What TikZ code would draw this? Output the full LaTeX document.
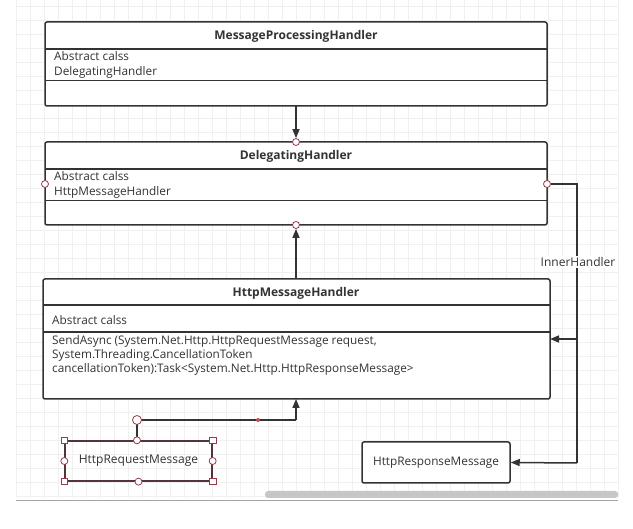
\documentclass[tikz,border=0pt]{standalone}
\usepackage{fontspec}
\setmainfont{Open Sans}
\usetikzlibrary{arrows.meta}
\definecolor{ln}{HTML}{333333}
\definecolor{hd}{HTML}{9A3B4A}
\definecolor{gridc}{HTML}{F0F0F0}
\begin{document}
\begin{tikzpicture}[x=1pt,y=-1pt,
  cls/.style={draw=ln,line width=1.5pt,rounded corners=2pt},
  sep/.style={draw=ln,line width=1.5pt},
  ttl/.style={font=\fontsize{12}{14}\selectfont\bfseries,text=ln},
  txt/.style={font=\fontsize{11.8}{14.5}\selectfont,text=ln,align=left,anchor=west,inner sep=0pt},
  conn/.style={draw=ln,line width=1.5pt},
  tip/.style={-{Triangle[length=9pt,width=7pt]}},
  hcirc/.style={circle,draw=hd,fill=white,line width=0.8pt,inner sep=0pt,minimum size=7pt},
  hsq/.style={rectangle,draw=hd,fill=white,line width=0.8pt,inner sep=0pt,minimum size=6.5pt}]
\useasboundingbox (0,0) rectangle (633,529);
\fill[white] (0,0) rectangle (633,529);
% grid
\foreach \x in {16,30,...,618} \draw[gridc,line width=0.5pt] (\x,0) -- (\x,498);
\foreach \y in {6,20,...,498} \draw[gridc,line width=0.5pt] (16,\y) -- (618,\y);
% scrollbar and bottom line
\fill[gray!45,rounded corners=3pt] (265,491) rectangle (618,498);
\draw[gray!70,line width=0.8pt] (16,500) -- (618,500);

% Box 1
\draw[cls,fill=white] (45,22) rectangle (547,106);
\draw[sep] (45,49) -- (547,49);
\draw[sep,line width=1pt] (45,81) -- (547,81);
\node[ttl] (t1) at (296,36) {MessageProcessingHandler};
\node[txt] (a1) at (54,65) {Abstract calss\\DelegatingHandler};
\coordinate (b1bot) at (296,106);

% Box 2
\draw[cls,fill=white] (45,142) rectangle (547,225);
\draw[sep] (45,169) -- (547,169);
\draw[sep,line width=1pt] (45,201) -- (547,201);
\node[ttl] (t2) at (296,156) {DelegatingHandler};
\node[txt] (a2) at (54,185) {Abstract calss\\HttpMessageHandler};
\coordinate (b2top) at (296,142);
\coordinate (b2bot) at (296,225);
\coordinate (b2right) at (547,184);
\coordinate (b2left) at (45,184);

% Box 3
\draw[cls,fill=white] (43,279) rectangle (550,399);
\draw[sep] (43,305) -- (550,305);
\draw[sep] (43,332) -- (550,332);
\node[ttl] (t3) at (296,293) {HttpMessageHandler};
\node[txt] (a3) at (52,320) {Abstract calss};
\node[txt,anchor=north west,font=\fontsize{11.8}{14}\selectfont] (m3) at (52,335) {SendAsync (System.Net.Http.HttpRequestMessage request,\\System.Threading.CancellationToken\\cancellationToken):Task<System.Net.Http.HttpResponseMessage>};
\coordinate (b3top) at (296,279);
\coordinate (b3bot) at (296,399);
\coordinate (b3right) at (550,339);

% Response box
\node[cls,fill=white,minimum width=148pt,minimum height=41pt,inner sep=0pt,
  font=\fontsize{11.8}{14}\selectfont,text=ln] (resp) at (436,462.5) {HttpResponseMessage};

% Request box (selected)
\node[draw=ln!70!hd,line width=1.3pt,minimum width=147pt,minimum height=40pt,inner sep=0pt,
  font=\fontsize{12}{14}\selectfont,text=ln] (req) at (138.5,461) {HttpRequestMessage};

% handles on DelegatingHandler
\node[hcirc] (h1) at (b2top) {};
\node[hcirc] (h2) at (b2bot) {};
\node[hcirc] (h3) at (b2right) {};
\node[hcirc] (h4) at (b2left) {};

% connectors
\draw[conn,tip] (b1bot) -- (h1.north);
\draw[conn,tip] (b3top) -- (h2.south);
\coordinate (ih1) at (577,184);
\coordinate (ih2) at (577,339);
\coordinate (ih3) at (577,463);
\draw[conn] (h3.east) -- (ih1) -- (ih3);
\draw[conn,tip] (ih2) -- (b3right);
\draw[conn,tip] (ih3) -- (resp.east);
\node[fill=white,inner sep=1.5pt,font=\fontsize{12}{14}\selectfont,text=ln] (lbl) at (578,262) {InnerHandler};

\coordinate (rq1) at (137,420);
\coordinate (rq2) at (296,420);
\draw[conn] (req.north -| rq1) -- (rq1) -- (rq2);
\draw[conn,tip] (rq2) -- (b3bot);
\fill[red!70!black!70] (258,420) circle (2pt);

% handles on selected request box
\node[hcirc,minimum size=9pt] (h5) at (rq1) {};
\node[hcirc] (h6) at (req.north -| rq1) {};
\node[hcirc] (h7) at (req.south) {};
\node[hcirc] (h8) at (req.west) {};
\node[hcirc] (h9) at (req.east) {};
\node[hsq] (s1) at (req.north west) {};
\node[hsq] (s2) at (req.north east) {};
\node[hsq] (s3) at (req.south west) {};
\node[hsq] (s4) at (req.south east) {};
\end{tikzpicture}
\end{document}
